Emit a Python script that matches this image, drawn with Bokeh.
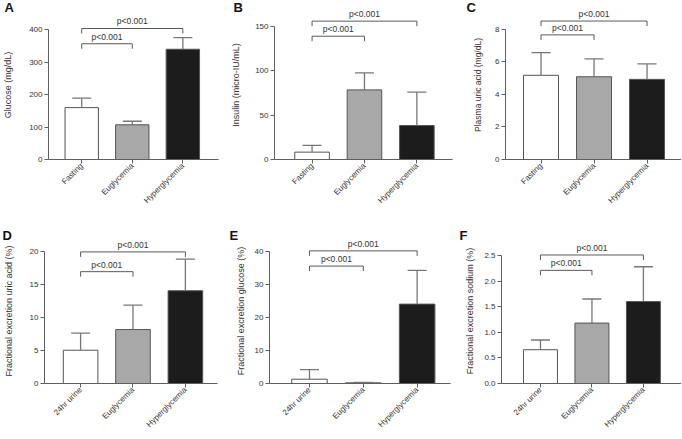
import math
from bokeh.plotting import figure
from bokeh.layouts import row, column
from bokeh.models import (Range1d, FixedTicker, ColumnDataSource, Whisker, TeeHead,
                          NumeralTickFormatter)
from bokeh.core.properties import value
from bokeh.embed import file_html
from bokeh.resources import INLINE

# ---------------- data ----------------
groups_top = ["Fasting", "Euglycemia", "Hyperglycemia"]
groups_bottom = ["24hr urine", "Euglycemia", "Hyperglycemia"]
bar_colors = ["#ffffff", "#a8a8a8", "#1c1c1c"]

glucose_mean = [160, 107, 340]
glucose_sd = [29, 11, 36]
glucose_ticks = [0, 100, 200, 300, 400]

insulin_mean = [8.3, 78.5, 38.3]
insulin_sd = [7.7, 19.2, 37.7]
insulin_ticks = [0, 50, 100, 150]

uric_mean = [5.17, 5.08, 4.92]
uric_sd = [1.39, 1.10, 0.95]
uric_ticks = [0, 2, 4, 6, 8]

feua_mean = [5.06, 8.2, 14.1]
feua_sd = [2.6, 3.7, 4.8]
feua_ticks = [0, 5, 10, 15, 20]

feglu_mean = [1.3, 0.2, 24.0]
feglu_sd = [2.9, 0.1, 10.2]
feglu_ticks = [0, 10, 20, 30, 40]

fena_mean = [0.66, 1.18, 1.60]
fena_sd = [0.19, 0.47, 0.68]
fena_ticks = [0.0, 0.5, 1.0, 1.5, 2.0, 2.5]

p_label = "p<0.001"
# comparisons: (group a, group b, bracket level)
glucose_pairs = [(0, 1, 357), (0, 2, 404)]
insulin_pairs = [(0, 1, 139), (0, 2, 156)]
uric_pairs = [(0, 1, 7.65), (0, 2, 8.5)]
feua_pairs = [(0, 1, 17.0), (0, 2, 20.0)]
feglu_pairs = [(0, 1, 35.5), (0, 2, 40.1)]
fena_pairs = [(0, 1, 2.21), (0, 2, 2.51)]

FONT = "Liberation Sans"
TXT = "#333333"
AX = "#5e5e5e"
TOP_BORDER = 10


def panel(cats, means, sds, ticks, pairs, ylabel, letter, g):
    n = len(cats)
    xs = list(range(n))
    p = figure(width=g["w"], height=g["h"], output_backend="svg", toolbar_location=None,
               x_range=Range1d(g["x0"], g["x1"]), y_range=Range1d(0, g["yend"]),
               min_border_left=g["bl"], min_border_right=g["br"],
               min_border_top=TOP_BORDER, min_border_bottom=g["bb"])
    p.outline_line_color = None
    p.grid.visible = False
    p.background_fill_color = "white"

    # panel letter as the figure title, pulled up into the top border
    p.title.text = letter
    p.title.align = "left"
    p.title.offset = g["lx"] - g["bl"]
    p.title.standoff = -8
    p.title.vertical_align = "bottom"
    p.title.text_font = FONT
    p.title.text_font_size = "13px"
    p.title.text_font_style = "bold"
    p.title.text_color = "#111111"

    src = ColumnDataSource(dict(x=xs, top=means, upper=[m + s for m, s in zip(means, sds)],
                                color=bar_colors[:n]))
    p.vbar(x="x", top="top", bottom=0, width=0.66, source=src, fill_color="color",
           line_color="#555555", line_width=1)
    w = Whisker(source=src, base="x", lower="top", upper="upper", dimension="height",
                line_color="#777777", line_width=1.3, level="glyph",
                upper_head=TeeHead(size=19, line_color="#777777", line_width=1.3),
                lower_head=None)
    p.add_layout(w)

    frame_h = g["h"] - g["bb"] - TOP_BORDER
    py = g["yend"] / frame_h            # data units per pixel (y)
    drop = 5.0 * py
    bx, by, tx, ty = [], [], [], []
    for a, b, lvl in pairs:
        bx.append([a, a, b, b])
        by.append([lvl - drop, lvl, lvl, lvl - drop])
        tx.append((a + b) / 2)
        ty.append(lvl)
    p.multi_line(xs=bx, ys=by, line_color="#5a5a5a", line_width=1)
    p.text(x=tx, y=ty, text=[p_label] * len(tx), text_align="center", text_baseline="bottom",
           y_offset=-2, text_font=value(FONT), text_font_size="8.5px", text_color=TXT)

    # axes
    xa = p.xaxis[0]
    xa.ticker = FixedTicker(ticks=xs)
    xa.major_label_overrides = {i: c for i, c in enumerate(cats)}
    xa.major_label_orientation = math.pi / 4
    xa.major_label_text_font = FONT
    xa.major_label_text_font_size = "8px"
    xa.major_label_text_color = TXT
    xa.major_label_standoff = 1
    xa.major_tick_out = 4
    xa.major_tick_in = 0
    xa.minor_tick_line_color = None
    xa.axis_line_color = AX
    xa.major_tick_line_color = AX

    ya = p.yaxis[0]
    ya.ticker = FixedTicker(ticks=ticks)
    ya.bounds = (ticks[0], ticks[-1])
    ya.axis_label = ylabel
    ya.axis_label_text_font = FONT
    ya.axis_label_text_font_size = g["lfs"]
    ya.axis_label_text_font_style = "normal"
    ya.axis_label_text_color = TXT
    ya.axis_label_standoff = g["ls"]
    ya.major_label_text_font = FONT
    ya.major_label_text_font_size = "8px"
    ya.major_label_text_color = TXT
    ya.major_label_standoff = 2
    ya.major_tick_out = 4
    ya.major_tick_in = 0
    ya.minor_tick_line_color = None
    ya.axis_line_color = AX
    ya.major_tick_line_color = AX
    if g.get("fmt"):
        ya.formatter = NumeralTickFormatter(format=g["fmt"])
    return p


TOP_H, TOP_BB = 228, 69
BOT_H, BOT_BB = 210, 55

pa = panel(groups_top, glucose_mean, glucose_sd, glucose_ticks, glucose_pairs,
           "Glucose (mg/dL)", "A",
           dict(w=228, h=TOP_H, bb=TOP_BB, bl=44, br=10, x0=-0.657, x1=2.705, yend=459.5,
                lfs="9px", ls=13, lx=0))
pb = panel(groups_top, insulin_mean, insulin_sd, insulin_ticks, insulin_pairs,
           "Insulin (micro-IU/mL)", "B",
           dict(w=227, h=TOP_H, bb=TOP_BB, bl=44, br=3, x0=-0.717, x1=2.68, yend=168.0,
                lfs="9px", ls=11, lx=3))
pc = panel(groups_top, uric_mean, uric_sd, uric_ticks, uric_pairs,
           "Plasma uric acid (mg/dL)", "C",
           dict(w=226, h=TOP_H, bb=TOP_BB, bl=50, br=0, x0=-0.67, x1=2.65, yend=9.147,
                lfs="8.5px", ls=9, lx=11))
pd_ = panel(groups_bottom, feua_mean, feua_sd, feua_ticks, feua_pairs,
            "Fractional excretion uric acid (%)", "D",
            dict(w=228, h=BOT_H, bb=BOT_BB, bl=42, br=11, x0=-0.689, x1=2.613, yend=22.04,
                 lfs="9px", ls=13, lx=0))
pe = panel(groups_bottom, feglu_mean, feglu_sd, feglu_ticks, feglu_pairs,
           "Fractional excretion glucose (%)", "E",
           dict(w=227, h=BOT_H, bb=BOT_BB, bl=41, br=5, x0=-0.743, x1=2.62, yend=43.84,
                lfs="9px", ls=6, lx=1))
pf = panel(groups_bottom, fena_mean, fena_sd, fena_ticks, fena_pairs,
           "Fractional excretion sodium (%)", "F",
           dict(w=226, h=BOT_H, bb=BOT_BB, bl=46, br=0, x0=-0.757, x1=2.74, yend=2.832,
                lfs="9px", ls=6, lx=4, fmt="0.0"))

layout = column(row(pa, pb, pc), row(pd_, pe, pf))
open("out.html", "w").write(file_html(layout, INLINE))
